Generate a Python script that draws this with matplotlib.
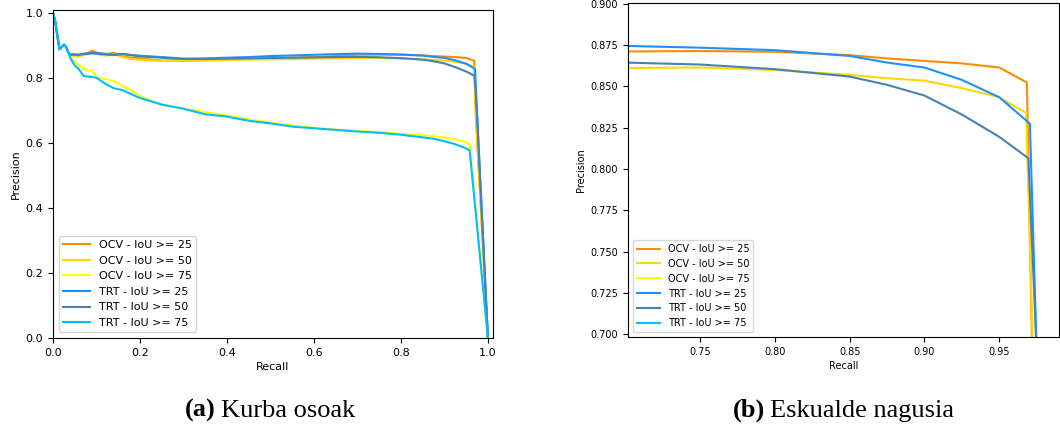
import numpy as np
import matplotlib
matplotlib.use('Agg')
import matplotlib.pyplot as plt
from matplotlib.ticker import FormatStrFormatter

plt.rcParams['font.family'] = 'DejaVu Sans'

# recall grid shared by every curve (the tail of each curve is separate)
recall = [0.000, 0.005, 0.010, 0.015, 0.020, 0.025, 0.030, 0.035, 0.040, 0.050,
          0.060, 0.070, 0.080, 0.090, 0.100, 0.120, 0.140, 0.160, 0.180, 0.200,
          0.250, 0.300, 0.350, 0.400, 0.450, 0.500, 0.550, 0.600, 0.650, 0.700,
          0.750, 0.800, 0.850, 0.875, 0.900, 0.925, 0.950]

start = [1.000, 0.975, 0.930, 0.888, 0.895, 0.902, 0.895, 0.878]

ocv25 = start + [0.870, 0.870, 0.868, 0.872, 0.875, 0.884, 0.878, 0.872, 0.877, 0.866, 0.862, 0.860,
                 0.853, 0.854, 0.855, 0.857, 0.858, 0.860, 0.862, 0.864, 0.867, 0.8712,
                 0.8715, 0.8710, 0.8690, 0.8670, 0.8655, 0.8640, 0.8615]
ocv50 = start + [0.869, 0.868, 0.866, 0.870, 0.873, 0.878, 0.874, 0.868, 0.872, 0.864, 0.858, 0.856,
                 0.852, 0.852, 0.853, 0.855, 0.856, 0.857, 0.858, 0.859, 0.860, 0.8612,
                 0.8615, 0.8600, 0.8570, 0.8550, 0.8535, 0.8490, 0.8435]
ocv75 = start + [0.866, 0.848, 0.840, 0.830, 0.822, 0.823, 0.800, 0.797, 0.790, 0.775, 0.762, 0.745,
                 0.716, 0.706, 0.695, 0.684, 0.672, 0.663, 0.654, 0.646, 0.641, 0.637,
                 0.633, 0.628, 0.624, 0.621, 0.617, 0.611, 0.602]
trt25 = start + [0.872, 0.872, 0.871, 0.873, 0.874, 0.875, 0.874, 0.872, 0.870, 0.873, 0.870, 0.868,
                 0.864, 0.859, 0.860, 0.862, 0.864, 0.867, 0.869, 0.871, 0.873, 0.8746,
                 0.8735, 0.8720, 0.8685, 0.8645, 0.8615, 0.8540, 0.8435]
trt50 = start + [0.871, 0.872, 0.871, 0.874, 0.876, 0.878, 0.876, 0.874, 0.871, 0.874, 0.870, 0.866,
                 0.862, 0.858, 0.858, 0.859, 0.860, 0.861, 0.862, 0.863, 0.864, 0.8645,
                 0.8633, 0.8605, 0.8560, 0.8510, 0.8445, 0.8330, 0.8195]
trt75 = start + [0.860, 0.838, 0.826, 0.806, 0.804, 0.803, 0.800, 0.782, 0.768, 0.762, 0.750, 0.738,
                 0.718, 0.705, 0.688, 0.681, 0.668, 0.660, 0.650, 0.645, 0.640, 0.635,
                 0.631, 0.625, 0.617, 0.613, 0.605, 0.596, 0.583]

# last points of each curve (drop to zero precision at full recall)
tails = {
    'ocv25': ([0.9685, 0.9720, 1.0], [0.8524, 0.690, 0.0]),
    'ocv50': ([0.9680, 0.9725, 1.0], [0.8340, 0.690, 0.0]),
    'ocv75': ([0.9580, 1.0], [0.595, 0.0]),
    'trt25': ([0.9705, 0.9750, 1.0], [0.8275, 0.690, 0.0]),
    'trt50': ([0.9695, 0.9750, 1.0], [0.8065, 0.690, 0.0]),
    'trt75': ([0.9580, 1.0], [0.577, 0.0]),
}

labels = ['OCV - IoU >= 25', 'OCV - IoU >= 50', 'OCV - IoU >= 75',
          'TRT - IoU >= 25', 'TRT - IoU >= 50', 'TRT - IoU >= 75']
keys = ['ocv25', 'ocv50', 'ocv75', 'trt25', 'trt50', 'trt75']
series = [ocv25, ocv50, ocv75, trt25, trt50, trt75]
colors = ['darkorange', 'gold', 'yellow', 'dodgerblue', 'steelblue', 'deepskyblue']

fig = plt.figure(figsize=(10.6, 4.25), dpi=100)
ax1 = fig.add_axes([0.050, 0.2047, 0.415, 0.772])
ax2 = fig.add_axes([0.5925, 0.207, 0.4066, 0.786])


def draw(g, fs):
    for k, s, c, l in zip(keys, series, colors, labels):
        x = np.concatenate([recall, tails[k][0]])
        y = np.concatenate([s, tails[k][1]])
        g.plot(x, y, color=c, lw=1.5, label=l)
    g.set_xlabel('Recall', fontsize=fs, labelpad=3)
    g.set_ylabel('Precision', fontsize=fs, labelpad=3)
    g.tick_params(labelsize=fs, length=3.5)
    g.legend(loc='lower left', fontsize=fs, handlelength=2.4)


draw(ax1, 8)
ax1.set_xlim(0, 1.0115)
ax1.set_ylim(0, 1.009)
ax1.set_xticks([0.0, 0.2, 0.4, 0.6, 0.8, 1.0])
ax1.set_yticks([0.0, 0.2, 0.4, 0.6, 0.8, 1.0])
ax1.xaxis.set_major_formatter(FormatStrFormatter('%.1f'))
ax1.yaxis.set_major_formatter(FormatStrFormatter('%.1f'))

draw(ax2, 7)
ax2.set_xlim(0.7018, 0.990)
ax2.set_ylim(0.6982, 0.9006)
ax2.set_xticks([0.75, 0.80, 0.85, 0.90, 0.95])
ax2.set_yticks(np.arange(0.700, 0.9001, 0.025))
ax2.yaxis.set_major_formatter(FormatStrFormatter('%.3f'))

# sub-figure captions: bold letter then plain text, one space apart
cap = {'family': 'Liberation Serif', 'size': 19}
r = fig.canvas.get_renderer()
for x0, letter, txt in [(185, '(a)', 'Kurba osoak'), (733, '(b)', 'Eskualde nagusia')]:
    t = fig.text(x0 / 1060, 8 / 425, letter, fontweight='bold', **cap)
    w = t.get_window_extent(renderer=r).width
    fig.text((x0 + w + 5) / 1060, 8 / 425, txt, **cap)

plt.savefig('out.png', dpi=100)
